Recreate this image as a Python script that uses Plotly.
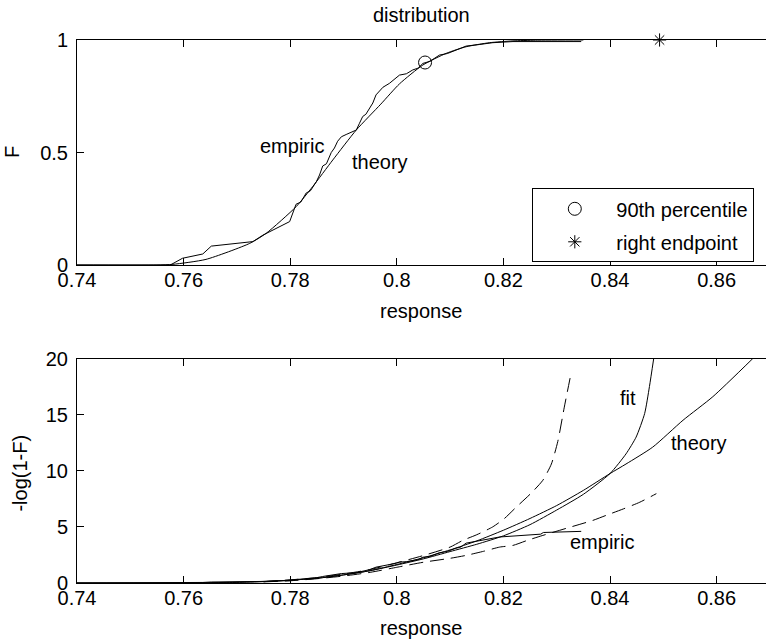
import plotly.graph_objects as go

# ---------------- data ----------------
# top panel: distribution F
theory_x = [0.74, 0.755, 0.758, 0.7642, 0.7724, 0.7755, 0.7811, 0.7842, 0.7880, 0.7924,
            0.7970, 0.8005, 0.8049, 0.8093, 0.8130, 0.8174, 0.8218, 0.826, 0.835]
theory_F = [0.0, 0.0, 0.003, 0.025, 0.096, 0.141, 0.259, 0.348, 0.467, 0.600,
            0.715, 0.805, 0.889, 0.941, 0.970, 0.988, 0.996, 0.999, 1.0]

empiric_x = [0.74, 0.7575, 0.7598, 0.7636, 0.7652, 0.7730, 0.7749, 0.7786, 0.7799, 0.7811,
             0.7820, 0.7830, 0.7838, 0.7849, 0.7855, 0.7861, 0.7868, 0.7877, 0.7883, 0.7889,
             0.7896, 0.7905, 0.7924, 0.7930, 0.7936, 0.7942, 0.7949, 0.7955, 0.7961, 0.7968,
             0.7974, 0.7986, 0.7999, 0.8005, 0.8018, 0.8030, 0.8040, 0.8049, 0.8062, 0.8080,
             0.8095, 0.8111, 0.8120, 0.8130, 0.8155, 0.8180, 0.8218, 0.8346]
empiric_F = [0.0, 0.0, 0.030, 0.049, 0.084, 0.104, 0.133, 0.178, 0.193, 0.270,
             0.280, 0.320, 0.330, 0.370, 0.400, 0.440, 0.450, 0.500, 0.520, 0.550,
             0.570, 0.580, 0.600, 0.630, 0.660, 0.670, 0.700, 0.720, 0.756, 0.775,
             0.790, 0.807, 0.830, 0.844, 0.850, 0.867, 0.875, 0.896, 0.905, 0.933,
             0.940, 0.956, 0.962, 0.973, 0.980, 0.988, 0.993, 0.993]

pct90_x = [0.8053]
pct90_F = [0.90]
endpoint_x = [0.8493]
endpoint_F = [1.0]

# bottom panel: -log(1-F)
th_x = [0.74, 0.755, 0.765, 0.772, 0.7755, 0.78, 0.785, 0.79, 0.795, 0.80, 0.805, 0.81,
        0.815, 0.82, 0.825, 0.83, 0.835, 0.84, 0.843, 0.848, 0.8537, 0.8593, 0.8668]
th_v = [0.0, 0.0, 0.03, 0.10, 0.15, 0.25, 0.42, 0.72, 1.10, 1.65, 2.25, 2.95,
        3.75, 4.70, 5.75, 6.90, 8.25, 9.75, 10.6, 12.1, 14.5, 16.6, 20.0]

fit_x = [0.74, 0.76, 0.77, 0.775, 0.78, 0.785, 0.79, 0.795, 0.80, 0.805, 0.81, 0.815,
         0.82, 0.825, 0.83, 0.835, 0.84, 0.843, 0.8449, 0.8465, 0.8474, 0.8482]
fit_v = [0.0, 0.0, 0.05, 0.12, 0.25, 0.42, 0.72, 1.10, 1.60, 2.15, 2.80, 3.45,
         4.20, 5.20, 6.50, 7.90, 9.75, 11.5, 13.0, 15.1, 17.5, 20.0]

emp_x = [0.74, 0.7575, 0.7598, 0.7636, 0.7652, 0.7730, 0.7749, 0.7786, 0.7799, 0.7811,
         0.7830, 0.7849, 0.7861, 0.7877, 0.7889, 0.7896, 0.7924, 0.7936, 0.7949, 0.7961,
         0.7974, 0.7986, 0.7999, 0.8005, 0.8018, 0.8030, 0.8040, 0.8049, 0.8062, 0.8080,
         0.8095, 0.8111, 0.8120, 0.8130, 0.8155, 0.8193, 0.8270, 0.8275, 0.8346]
emp_v = [0.0, 0.0, 0.03, 0.05, 0.09, 0.11, 0.14, 0.20, 0.21, 0.31,
         0.39, 0.46, 0.58, 0.69, 0.80, 0.84, 0.92, 1.07, 1.19, 1.41,
         1.56, 1.64, 1.77, 1.86, 1.90, 2.02, 2.08, 2.30, 2.36, 2.70,
         2.81, 3.10, 3.20, 3.55, 3.75, 4.10, 4.35, 4.50, 4.60]

up_x = [0.775, 0.78, 0.785, 0.79, 0.795, 0.80, 0.805, 0.81, 0.8124, 0.815, 0.818,
        0.8202, 0.8225, 0.8252, 0.8274, 0.8290, 0.8302, 0.8314, 0.8327]
up_v = [0.12, 0.28, 0.48, 0.80, 1.20, 1.80, 2.45, 3.20, 3.80, 4.30, 5.00,
        5.75, 6.80, 8.00, 9.15, 10.6, 12.6, 15.6, 18.7]

lo_x = [0.775, 0.78, 0.785, 0.79, 0.795, 0.80, 0.805, 0.81, 0.813, 0.8165, 0.8193,
        0.8218, 0.8245, 0.8274, 0.832, 0.8368, 0.8393, 0.8425, 0.8456, 0.8487]
lo_v = [0.10, 0.20, 0.38, 0.62, 0.95, 1.40, 1.85, 2.20, 2.46, 2.85, 3.20,
        3.35, 3.80, 4.24, 4.90, 5.58, 6.03, 6.60, 7.20, 7.96]

x_ticks = [0.74, 0.76, 0.78, 0.80, 0.82, 0.84, 0.86]
x_ticktext = ["0.74", "0.76", "0.78", "0.8", "0.82", "0.84", "0.86"]
F_ticks = [0, 0.5, 1]
F_ticktext = ["0", "0.5", "1"]
v_ticks = [0, 5, 10, 15, 20]

# ---------------- figure ----------------
FONT = "Liberation Sans, Arial, Helvetica, sans-serif"
FS = 20

fig = go.Figure()
fig.add_trace(go.Scatter(x=theory_x, y=theory_F, mode="lines",
                         line=dict(color="black", width=1, shape="spline", smoothing=0.6),
                         showlegend=False, xaxis="x", yaxis="y"))
fig.add_trace(go.Scatter(x=empiric_x, y=empiric_F, mode="lines",
                         line=dict(color="black", width=1),
                         showlegend=False, xaxis="x", yaxis="y"))
fig.add_trace(go.Scatter(x=pct90_x, y=pct90_F, mode="markers", name="90th percentile",
                         marker=dict(symbol="circle-open", size=13, color="black",
                                     line=dict(width=1, color="black")),
                         xaxis="x", yaxis="y", legendgroup="a"))
fig.add_trace(go.Scatter(x=endpoint_x, y=endpoint_F, mode="markers", name="right endpoint",
                         marker=dict(symbol="asterisk-open", size=11, color="black",
                                     line=dict(width=1, color="black")),
                         xaxis="x", yaxis="y", legendgroup="b", cliponaxis=False))

for xs, ys, dash, shape in [(th_x, th_v, "solid", "spline"), (fit_x, fit_v, "solid", "spline"),
                            (emp_x, emp_v, "solid", "linear"),
                            (up_x, up_v, "14px,7px", "spline"), (lo_x, lo_v, "14px,7px", "spline")]:
    ln = dict(color="black", width=1, dash=dash, shape=shape)
    if shape == "spline":
        ln["smoothing"] = 0.6
    fig.add_trace(go.Scatter(x=xs, y=ys, mode="lines", line=ln,
                             showlegend=False, xaxis="x2", yaxis="y2"))

L, T, B = 77, 40, 58
W, H = 766, 641
ph = H - T - B
def py(p):
    return (H - B - p) / ph
def px(p):
    return (p - L) / (W - L)

XR = [0.74, 0.74 + (W - L) / 5330.0]

xcommon = dict(range=XR, tickvals=x_ticks, ticktext=x_ticktext, ticks="inside",
               ticklen=7, tickwidth=1, tickcolor="black", showline=True,
               linecolor="black", linewidth=1, mirror="ticks", showgrid=False,
               zeroline=False, tickfont=dict(family=FONT, size=FS, color="black"),
               ticklabelstandoff=-3)
ycommon = dict(ticks="inside", ticklen=7, tickwidth=1, tickcolor="black",
               showline=True, linecolor="black", linewidth=1, showgrid=False,
               zeroline=False, tickfont=dict(family=FONT, size=FS, color="black"),
               ticklabelstandoff=4)

top_dom = [py(265), 1.0]
bot_dom = [0.0, py(358.5)]

fig.update_layout(
    width=W, height=H, margin=dict(l=L, r=0, t=T, b=B),
    paper_bgcolor="white", plot_bgcolor="white",
    font=dict(family=FONT, size=FS, color="black"),
    xaxis=dict(xcommon, anchor="y"),
    yaxis=dict(ycommon, domain=top_dom, range=[0, 1], tickvals=F_ticks,
               ticktext=F_ticktext, anchor="x"),
    xaxis2=dict(xcommon, anchor="y2"),
    yaxis2=dict(ycommon, domain=bot_dom, range=[0, 20], tickvals=v_ticks, anchor="x2"),
    yaxis3=dict(overlaying="y", side="right", range=[0, 1], tickvals=F_ticks,
                ticks="inside", ticklen=7, tickcolor="black", showticklabels=False,
                showline=False, showgrid=False, zeroline=False, anchor="x"),
    yaxis4=dict(overlaying="y2", side="right", range=[0, 20], tickvals=v_ticks,
                ticks="inside", ticklen=7, tickcolor="black", showticklabels=False,
                showline=False, showgrid=False, zeroline=False, anchor="x2"),
    showlegend=True,
    legend=dict(x=px(532.3), y=py(188.3), xanchor="left", yanchor="top",
                bordercolor="black", borderwidth=1, bgcolor="white",
                font=dict(family=FONT, size=FS, color="black"),
                itemwidth=73, tracegroupgap=4, traceorder="grouped"),
)

ann = [
    dict(text="distribution", x=px(421), y=py(15), xref="paper", yref="paper"),
    dict(text="F", x=px(12), y=py(152), xref="paper", yref="paper", textangle=-90),
    dict(text="-log(1-F)", x=px(20), y=py(473.6), xref="paper", yref="paper", textangle=-90),
    dict(text="response", x=px(420.5), y=py(311), xref="paper", yref="paper"),
    dict(text="response", x=px(420.5), y=py(628), xref="paper", yref="paper"),
    dict(text="empiric", x=0.7803, y=0.528, xref="x", yref="y"),
    dict(text="theory", x=0.7969, y=0.459, xref="x", yref="y"),
    dict(text="fit", x=0.8433, y=16.5, xref="x2", yref="y2"),
    dict(text="theory", x=0.8567, y=12.5, xref="x2", yref="y2"),
    dict(text="empiric", x=0.8385, y=3.64, xref="x2", yref="y2"),
]
for a in ann:
    a.update(showarrow=False, xanchor="center", yanchor="middle",
             font=dict(family=FONT, size=FS, color="black"))
fig.update_layout(annotations=ann)

fig.write_html("out.html")
